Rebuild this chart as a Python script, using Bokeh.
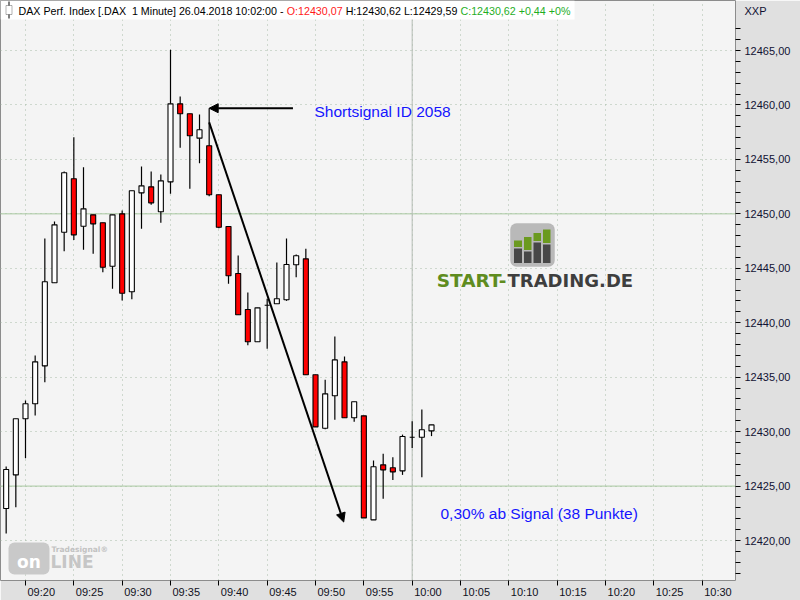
import pandas as pd
from bokeh.plotting import figure
from bokeh.models import (Range1d, FixedTicker, CustomJSTickFormatter, Span, Label,
                          BoxAnnotation, Arrow, NormalHead, ColumnDataSource)
from bokeh.embed import file_html
from bokeh.resources import INLINE

# ---- DAX 1-minute bars, 26.04.2018 ----
DAY = "2018-04-26"
times = ["09:18", "09:19", "09:20", "09:21", "09:22", "09:23", "09:24", "09:25", "09:26", "09:27",
         "09:28", "09:29", "09:30", "09:31", "09:32", "09:33", "09:34", "09:35", "09:36", "09:37",
         "09:38", "09:39", "09:40", "09:41", "09:42", "09:43", "09:44", "09:45", "09:46", "09:47",
         "09:48", "09:49", "09:50", "09:51", "09:52", "09:53", "09:54", "09:55", "09:56", "09:57",
         "09:58", "09:59", "10:00", "10:01", "10:02"]
opens = [12422.94, 12426.03, 12431.18, 12432.56, 12436.04, 12443.67, 12448.31, 12453.22, 12448.86, 12449.91,
         12449.18, 12445.19, 12450.00, 12442.84, 12451.93, 12452.48, 12450.19, 12452.94, 12460.10, 12459.19,
         12456.95, 12456.25, 12451.75, 12448.84, 12444.52, 12441.21, 12438.25, 12441.61, 12441.74, 12442.11,
         12445.32, 12445.87, 12435.22, 12430.31, 12433.29, 12436.41, 12431.27, 12431.45, 12421.90, 12426.95,
         12426.68, 12426.40, 12429.49, 12429.49, 12430.07]
highs = [12426.80, 12431.18, 12432.86, 12436.99, 12447.73, 12449.30, 12453.89, 12457.04, 12454.28, 12449.91,
         12449.18, 12449.91, 12450.31, 12452.12, 12454.35, 12453.89, 12453.61, 12465.06, 12460.78, 12459.19,
         12459.12, 12459.70, 12451.75, 12448.84, 12446.17, 12442.78, 12441.37, 12442.20, 12445.53, 12447.73,
         12446.27, 12446.79, 12435.22, 12434.76, 12438.73, 12436.90, 12432.74, 12431.45, 12427.35, 12427.96,
         12427.65, 12429.73, 12430.96, 12432.03, 12430.62]
lows = [12420.64, 12423.06, 12427.56, 12431.48, 12434.54, 12443.67, 12446.57, 12447.61, 12446.70, 12446.33,
        12444.64, 12443.12, 12442.04, 12442.16, 12448.63, 12450.83, 12449.18, 12451.84, 12456.06, 12452.30,
        12454.65, 12451.62, 12448.68, 12443.57, 12440.73, 12437.94, 12438.25, 12437.61, 12441.74, 12442.01,
        12444.18, 12435.22, 12430.44, 12430.22, 12431.09, 12431.27, 12430.90, 12422.08, 12421.90, 12423.83,
        12425.57, 12426.03, 12428.51, 12425.81, 12429.59]
closes = [12426.52, 12431.18, 12432.56, 12436.41, 12443.76, 12448.99, 12453.77, 12448.07, 12450.46, 12449.08,
          12445.10, 12449.91, 12442.71, 12452.12, 12452.57, 12451.01, 12453.03, 12460.10, 12459.19, 12457.17,
          12457.72, 12451.75, 12448.77, 12444.31, 12440.73, 12438.25, 12441.37, 12441.61, 12442.20, 12445.35,
          12446.15, 12435.22, 12430.44, 12433.47, 12436.59, 12431.27, 12432.74, 12422.08, 12426.77, 12426.49,
          12426.31, 12429.55, 12429.49, 12430.18, 12430.62]

price_ticks = [12420, 12425, 12430, 12435, 12440, 12445, 12450, 12455, 12460, 12465]
price_minor = list(range(12417, 12468))
time_ticks = ["09:20", "09:25", "09:30", "09:35", "09:40", "09:45", "09:50", "09:55",
              "10:00", "10:05", "10:10", "10:15", "10:20", "10:25", "10:30"]
level_lines = [12450, 12425]
session_mark = "10:00"
symbol_code = "XXP"

# short signal annotation
signal_time = "09:39"
signal_price = 12459.70
signal_tail_time = "09:47:40"
move_start_price = 12458.40
target_points = 38
target_time = "09:52:55"
target_price = signal_price - target_points


def ms(hhmm):
    return pd.Timestamp(f"{DAY} {hhmm}").value / 1e6


# pixel <-> data helpers for the fixed 735 x 580 frame
T_REF = ms("09:20")
PX_MIN = 9.667
PX_PT = 10.89


def xd(px):
    return T_REF + (px - 25) / PX_MIN * 60000


def yd(py):
    return 12465 - (py - 50) / PX_PT


def de(v):
    return f"{v:.2f}".replace(".", ",")


ARIAL_W = {' ': 278, 'A': 667, 'C': 722, 'D': 722, 'H': 722, 'I': 278, 'L': 556, 'M': 833,
           'O': 778, 'P': 667, 'X': 667, '[': 278, ']': 278, '.': 278, ',': 278, ':': 278,
           '-': 333, '+': 584, '%': 889, 'd': 556, 'e': 556, 'f': 278, 'i': 222, 'n': 556,
           'r': 333, 't': 278, 'u': 556, 'x': 500, '\u00a0': 278}


def text_w(s, size):
    return sum(ARIAL_W.get(ch, 556) for ch in s) * size / 1000


FONT = "Liberation Sans"
AXIS_SIZE = 11

p = figure(width=800, height=600, x_axis_type="datetime", y_axis_location="right",
           x_range=Range1d(xd(0), xd(735)), y_range=Range1d(yd(580), yd(0)),
           toolbar_location=None, output_backend="svg",
           min_border=0, min_border_right=65, min_border_bottom=20,
           background_fill_color="#f4f4f4", border_fill_color="#e0e0e0",
           outline_line_color="#8c8c8c", outline_line_width=1)

# grids
p.xgrid[0].ticker = FixedTicker(ticks=[ms(t) for t in time_ticks])
p.ygrid[0].ticker = FixedTicker(ticks=price_ticks)
for g in (p.xgrid[0], p.ygrid[0]):
    g.grid_line_color = "#a8bca8"
    g.grid_line_dash = "1 4"
    g.grid_line_width = 1

for lv in level_lines:
    p.add_layout(Span(location=lv, dimension="width", line_color="#a8c8a0", line_width=1, level="underlay"))
p.add_layout(Span(location=ms(session_mark), dimension="height", line_color="#b4bcb4",
                  line_width=1, level="underlay"))

# price axis: tick dashes come from the 1-point minor ticks, labels from the majors;
# the symbol code sits in the label column at the top
symbol_level = yd(10)
ya = p.yaxis[0]
ya.ticker = FixedTicker(ticks=price_ticks + [symbol_level], minor_ticks=price_minor)
ya.formatter = CustomJSTickFormatter(
    args=dict(code_level=symbol_level - 0.5, code=symbol_code),
    code="return tick > code_level ? code : tick.toFixed(2).replace('.', ',');")
ya.axis_line_color = None
ya.major_tick_out, ya.major_tick_in = 0, 0
ya.minor_tick_out, ya.minor_tick_in = 5, 0
ya.minor_tick_line_color = "black"
ya.major_label_standoff = 4
ya.major_label_text_font = FONT
ya.major_label_text_font_size = f"{AXIS_SIZE}px"
ya.major_label_text_color = "#111133"

# time axis: labels start just right of each tick, so the labelled positions are
# shifted by half a label width; the tick dashes are drawn as minor ticks
label_shift = (2 + text_w("09:20", AXIS_SIZE) / 2) / PX_MIN * 60000
xa = p.xaxis[0]
xa.ticker = FixedTicker(ticks=[ms(t) + label_shift for t in time_ticks],
                        minor_ticks=[ms(t) for t in time_ticks])
xa.formatter = CustomJSTickFormatter(
    args=dict(shift=label_shift),
    code="""
const d = new Date(tick - shift + 1000);
const h = String(d.getUTCHours()).padStart(2, '0');
const m = String(d.getUTCMinutes()).padStart(2, '0');
return h + ':' + m;
""")
xa.axis_line_color = None
xa.major_tick_out, xa.major_tick_in = 0, 0
xa.minor_tick_out, xa.minor_tick_in = 5, 0
xa.minor_tick_line_color = "black"
xa.major_label_standoff = 0
xa.major_label_text_font = FONT
xa.major_label_text_font_size = f"{AXIS_SIZE}px"
xa.major_label_text_color = "#111122"

# candles
src = ColumnDataSource(dict(
    x=[ms(t) for t in times], high=highs, low=lows,
    top=[max(o, c) for o, c in zip(opens, closes)],
    bottom=[min(o, c) for o, c in zip(opens, closes)],
    color=["#ff0000" if c < o else "#ffffff" for o, c in zip(opens, closes)],
))
p.segment("x", "high", "x", "low", source=src, line_color="black", line_width=1.2)
p.vbar(x="x", width=0.52 * 60000, top="top", bottom="bottom", fill_color="color",
       line_color="black", line_width=1.1, source=src)

# signal arrows and notes
p.add_layout(Arrow(end=NormalHead(size=9, fill_color="black", line_color="black", line_width=1),
                   x_start=ms(signal_tail_time), y_start=signal_price,
                   x_end=ms(signal_time), y_end=signal_price,
                   line_color="black", line_width=2))
p.add_layout(Arrow(end=NormalHead(size=9, fill_color="black", line_color="black", line_width=1),
                   x_start=ms(signal_time), y_start=move_start_price,
                   x_end=ms(target_time), y_end=target_price,
                   line_color="black", line_width=2))
p.add_layout(Label(x=xd(314), y=yd(111), text="Shortsignal ID 2058", text_align="left",
                   text_baseline="middle", text_font=FONT, text_font_size="15.5px",
                   text_color="#1515ff"))
pct_move = target_points / signal_price * 100
p.add_layout(Label(x=xd(440), y=yd(513),
                   text=f"{de(pct_move)[:4]}% ab Signal ({target_points} Punkte)",
                   text_align="left", text_baseline="middle", text_font=FONT,
                   text_font_size="15.5px", text_color="#1515ff"))

# header line with last bar values
HEAD_SIZE = 10.7
chg = closes[-1] - closes[-2]
chg_pct = chg / closes[-2] * 100
segments = [
    (f"DAX Perf. Index [.DAX \u00a01 Minute] 26.04.2018 {times[-1]}:00 - ", "black"),
    (f"O:{de(opens[-1])}", "#ff1a1a"),
    (f" H:{de(highs[-1])} L:{de(lows[-1])} ", "black"),
    (f"C:{de(closes[-1])} {'+' if chg >= 0 else ''}{de(chg)} {chg_pct:+.0f}%", "#1fae1f"),
]
p.add_layout(BoxAnnotation(left=xd(0), right=xd(574), top=yd(0), bottom=yd(19),
                           fill_color="white", fill_alpha=1, line_color=None))
cursor = 18
for txt, col in segments:
    lead = len(txt) - len(txt.lstrip(" "))
    p.add_layout(Label(x=xd(cursor + text_w(" " * lead, HEAD_SIZE)), y=yd(10), text=txt.strip(),
                       text_align="left", text_baseline="middle", text_font=FONT,
                       text_font_size=f"{HEAD_SIZE}px", text_color=col))
    cursor += text_w(txt, HEAD_SIZE)
# small candle symbol in the header
p.add_layout(BoxAnnotation(left=xd(8), right=xd(9), top=yd(1), bottom=yd(18),
                           fill_color="black", fill_alpha=1, line_color=None))
p.add_layout(BoxAnnotation(left=xd(5.5), right=xd(11.5), top=yd(5), bottom=yd(14),
                           fill_color="white", fill_alpha=1, line_color="black", line_width=1))

# START-TRADING.DE mark
p.add_layout(BoxAnnotation(left=xd(510), right=xd(554), top=yd(223), bottom=yd(266),
                           fill_color="#b9b9b9", fill_alpha=1, line_color="#a4a4a4",
                           border_radius=6))
for x0, x1, g_top, d_top in [(513.5, 521.5, 240, 248), (523.5, 531, 236.5, 251),
                             (533, 540.5, 232.5, 242), (542.5, 550, 229, 244)]:
    p.add_layout(BoxAnnotation(left=xd(x0), right=xd(x1), top=yd(g_top), bottom=yd(d_top - 1.5),
                               fill_color="#6b9a1f", fill_alpha=1, line_color=None))
    p.add_layout(BoxAnnotation(left=xd(x0), right=xd(x1), top=yd(d_top), bottom=yd(262.5),
                               fill_color="#474747", fill_alpha=1, line_color=None))
p.add_layout(Label(x=xd(506), y=yd(280), text="START-", text_align="right", text_baseline="middle",
                   text_font="DejaVu Sans", text_font_style="bold", text_font_size="18.5px",
                   text_color="#5f8c1f"))
p.add_layout(Label(x=xd(507), y=yd(280), text="TRADING.DE", text_align="left",
                   text_baseline="middle", text_font="DejaVu Sans", text_font_style="bold",
                   text_font_size="18px", text_color="#3e3e3e"))

# Tradesignal online mark
p.add_layout(BoxAnnotation(left=xd(8), right=xd(49), top=yd(542), bottom=yd(574),
                           fill_color="#c9c9c9", fill_alpha=1, line_color=None, border_radius=6))
p.add_layout(Label(x=xd(28.5), y=yd(561), text="on", text_align="center", text_baseline="middle",
                   text_font="DejaVu Sans", text_font_style="bold", text_font_size="17px",
                   text_color="white"))
p.add_layout(Label(x=xd(50), y=yd(561), text="LINE", text_align="left", text_baseline="middle",
                   text_font="DejaVu Sans", text_font_style="bold", text_font_size="17px",
                   text_color="#c6c6c6"))
p.add_layout(Label(x=xd(51), y=yd(549), text="Tradesignal®", text_align="left",
                   text_baseline="middle", text_font="DejaVu Sans", text_font_style="bold",
                   text_font_size="7.5px", text_color="#c2c2c2"))

open("out.html", "w").write(file_html(p, INLINE))
